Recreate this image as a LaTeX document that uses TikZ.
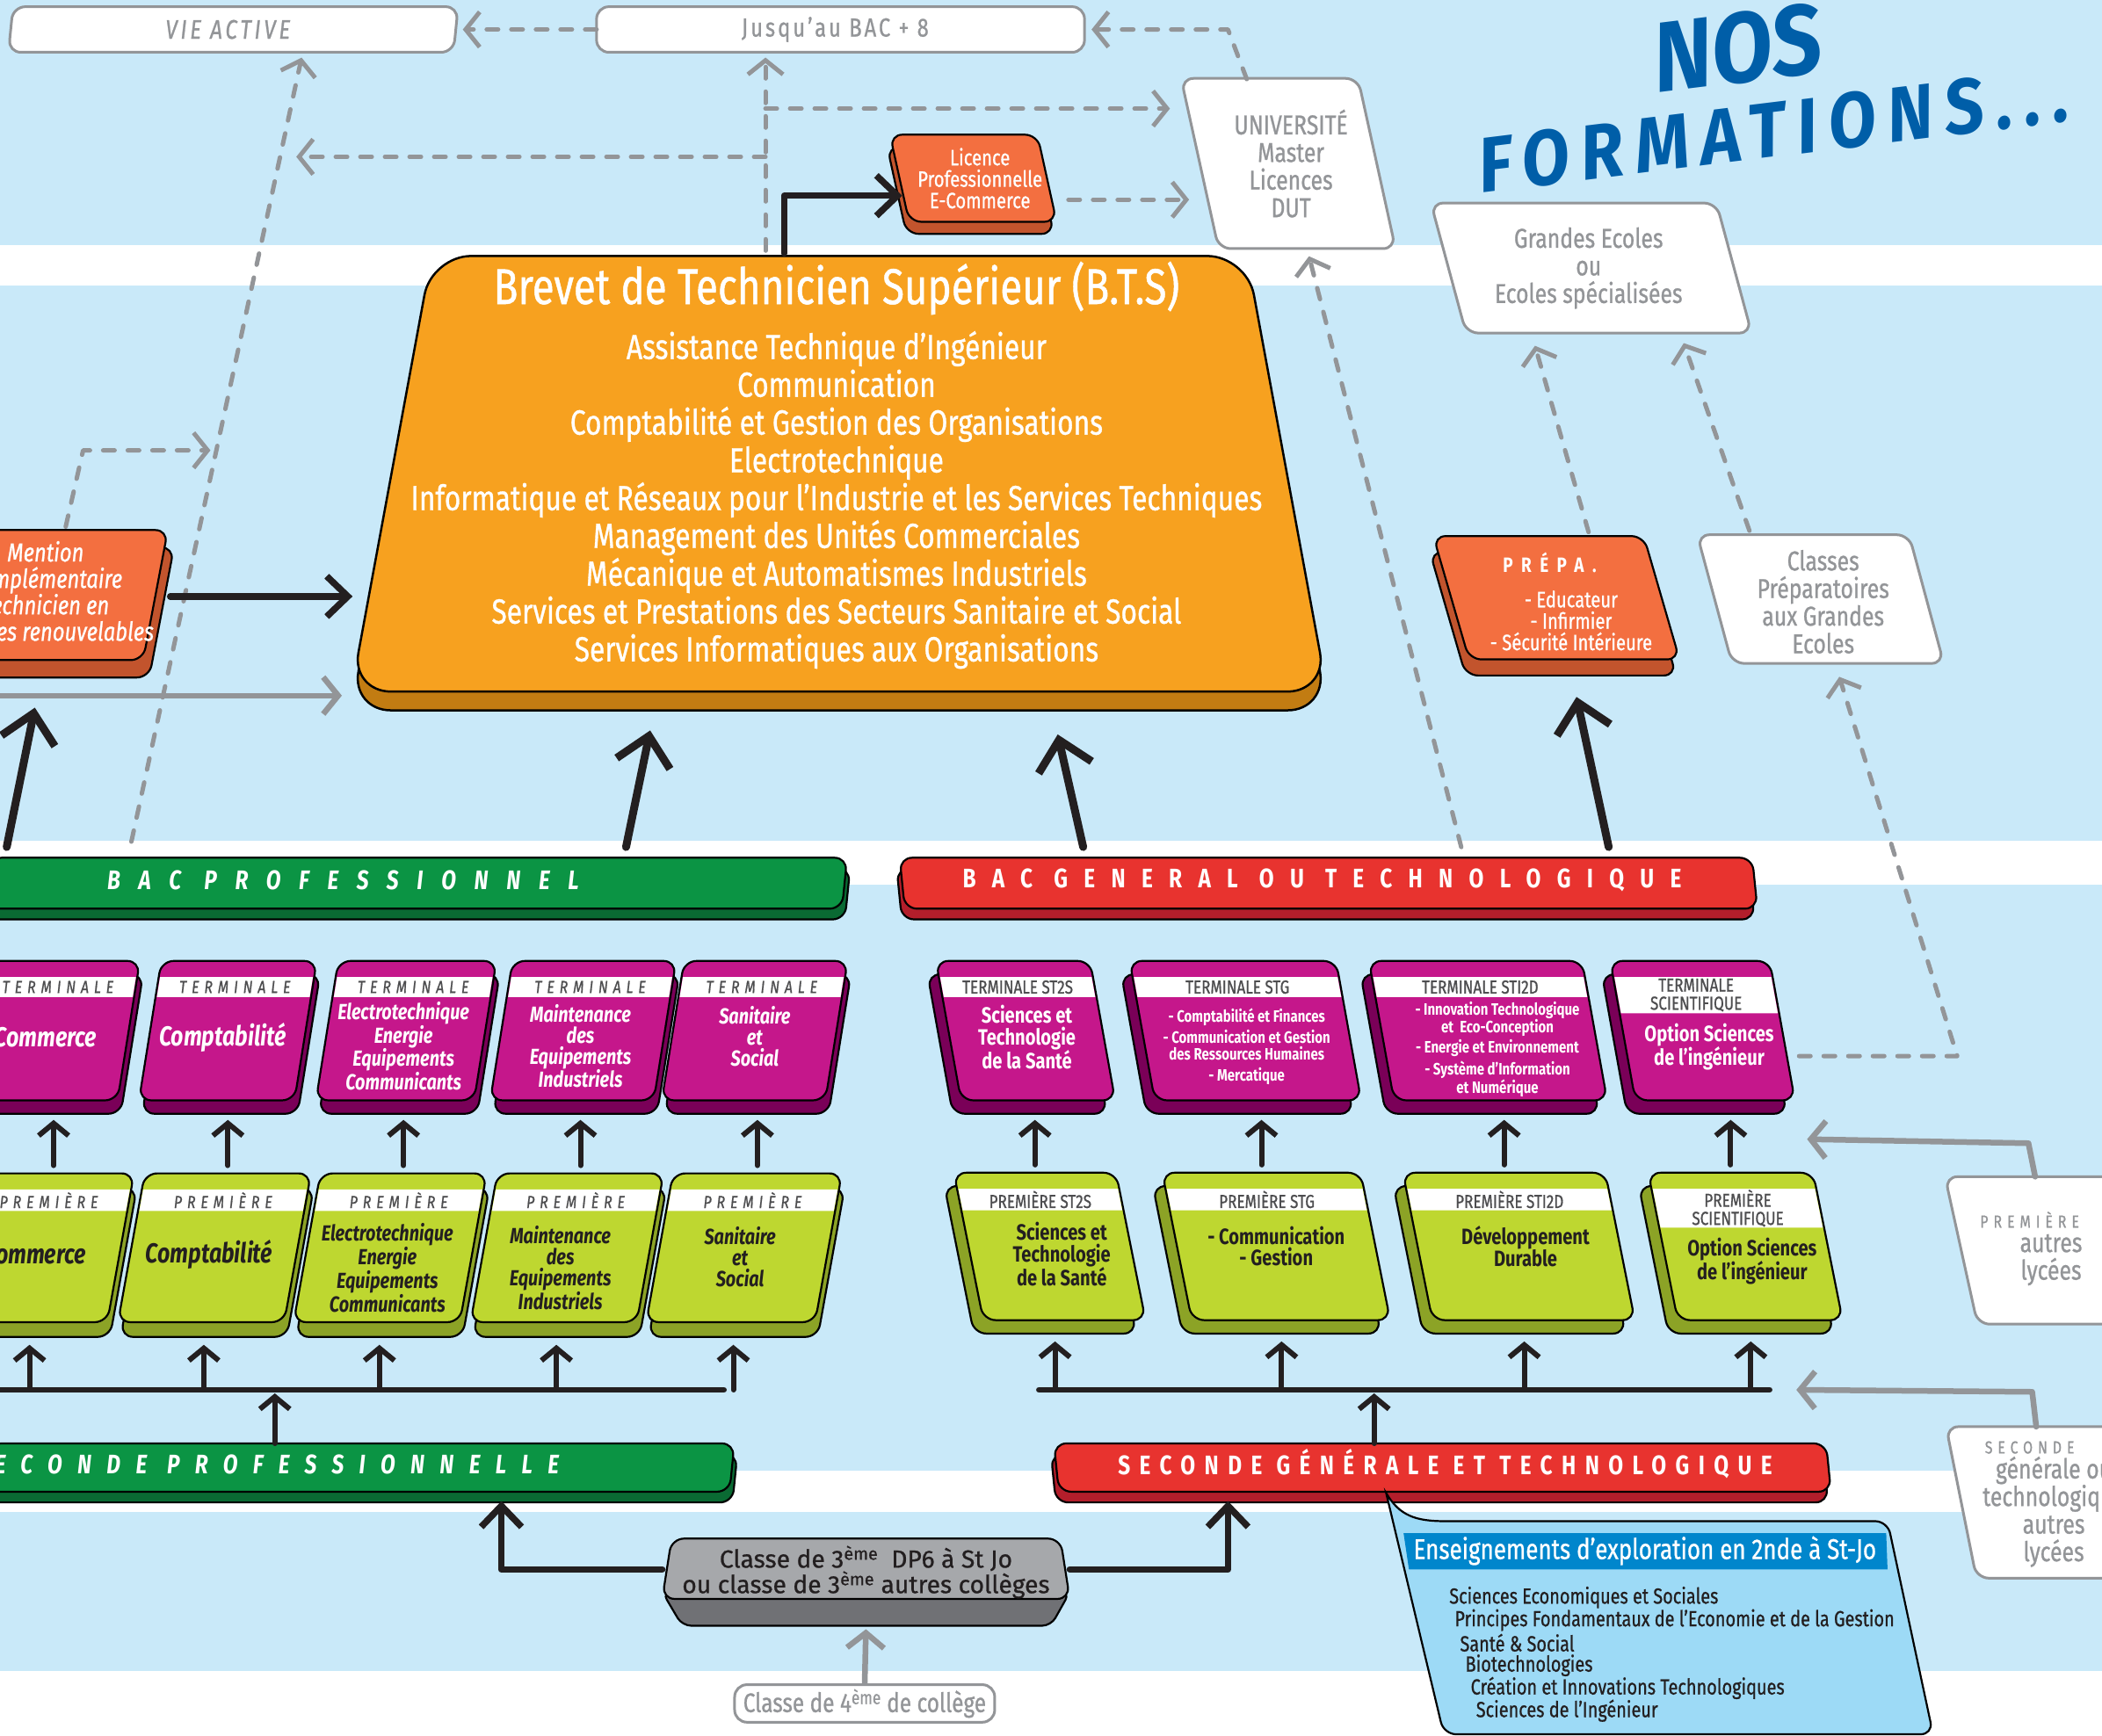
\documentclass[tikz,border=0pt]{standalone}
\usepackage{fontspec}
\setmainfont{Fira Sans}[FakeStretch=0.8, UprightFeatures={FakeBold=0.8}, ItalicFeatures={FakeBold=0.8}]
\newfontfamily\widefont{Fira Sans}[FakeBold=0.8]
\newfontfamily\handfont{Fira Sans}[FakeStretch=0.9]
\usetikzlibrary{arrows.meta}

\definecolor{skyback}{HTML}{C9E9F9}
\definecolor{linegray}{HTML}{939598}
\definecolor{labelgray}{HTML}{4D4D4F}
\definecolor{darktext}{HTML}{231F20}
\definecolor{btsface}{HTML}{F7A11F}
\definecolor{btsside}{HTML}{C27C12}
\definecolor{brickface}{HTML}{F36F40}
\definecolor{brickside}{HTML}{C2542D}
\definecolor{magface}{HTML}{C5178B}
\definecolor{magside}{HTML}{7A0058}
\definecolor{limeface}{HTML}{BED730}
\definecolor{limeside}{HTML}{8CA326}
\definecolor{proface}{HTML}{0B9444}
\definecolor{proside}{HTML}{0A6A33}
\definecolor{genface}{HTML}{E8332F}
\definecolor{genside}{HTML}{B31E2B}
\definecolor{stoneface}{HTML}{A6A8AB}
\definecolor{stoneside}{HTML}{707175}
\definecolor{titleblue}{HTML}{005EA8}
\definecolor{explface}{HTML}{9DDAF6}
\definecolor{explhead}{HTML}{0086CC}

% font size given in pixels of the reference
\newcommand\sz[2]{\fontsize{\fpeval{#1*1.5255}}{\fpeval{#2*1.5255}}\selectfont}

% raised block: name, centre, width, height, slant, depth x, depth y, colour, band height
\newcommand\slab[9]{%
  \begin{scope}[shift={#2}, xslant=#5]
    \path[fill=#8side, draw=black, line width=2.2pt, rounded corners=14pt]
      (-#3/2+#6,-#4/2+#7) -- (#3/2+#6,-#4/2+#7) -- (#3/2+#6,#4/2+#7) -- (-#3/2+#6,#4/2+#7) -- cycle;
    \path[fill=#8face, draw=black, line width=2.2pt, rounded corners=14pt]
      (-#3/2,-#4/2) -- (#3/2,-#4/2) -- (#3/2,#4/2) -- (-#3/2,#4/2) -- cycle;
    \ifdim #9pt>0pt
      \fill[white] (-#3/2+1,-#4/2+12) -- (#3/2-1,-#4/2+12) -- (#3/2-1,-#4/2+12+#9) -- (-#3/2+1,-#4/2+12+#9) -- cycle;
    \fi
    \coordinate (#1) at (0,0);
    \coordinate (#1-n) at (0,-#4/2);
    \coordinate (#1-s) at (#6,#4/2+#7);
    \coordinate (#1-w) at (-#3/2,0);
    \coordinate (#1-e) at (#3/2,0);
    \coordinate (#1-band) at (0,-#4/2+12+#9/2);
  \end{scope}}

% flat white card: name, centre, width, height, slant
\newcommand\card[5]{%
  \begin{scope}[shift={#2}, xslant=#5]
    \path[fill=white, draw=linegray, line width=3pt, rounded corners=14pt]
      (-#3/2,-#4/2) -- (#3/2,-#4/2) -- (#3/2,#4/2) -- (-#3/2,#4/2) -- cycle;
    \coordinate (#1) at (0,0);
    \coordinate (#1-n) at (0,-#4/2);
    \coordinate (#1-s) at (0,#4/2);
    \coordinate (#1-w) at (-#3/2,0);
    \coordinate (#1-e) at (#3/2,0);
  \end{scope}}

\tikzset{
  dashline/.style={draw=linegray, line width=5pt, line cap=round, line join=round, dash pattern=on 13pt off 15pt},
  dashlink/.style={dashline, -{Straight Barb[length=16pt, width=40pt]}},
  greylink/.style={draw=linegray, line width=6.5pt, line cap=round, line join=round, -{Straight Barb[length=17pt, width=42pt]}},
  boldline/.style={draw=darktext, line width=6.5pt, line cap=round, line join=round},
  boldlink/.style={boldline, line width=7.5pt, -{Straight Barb[length=24pt, width=46pt]}},
  hugelink/.style={boldline, line width=9pt, -{Straight Barb[length=32pt, width=62pt]}},
  uplink/.style={boldline, line width=6pt, -{Straight Barb[length=14pt, width=34pt]}},
  bandlabel/.style={inner sep=0pt, text=labelgray, font=\sz{13}{13}\itshape\addfontfeatures{LetterSpace=30}},
  bandtag/.style={inner sep=0pt, text=labelgray, align=center, font=\sz{14}{13.5}},
  bigword/.style={inner sep=0pt, font=\sz{20.5}{20}\bfseries\itshape},
  probody/.style={inner sep=0pt, text=white, align=center, font=\sz{16.3}{15.7}\bfseries\itshape},
  prebody/.style={probody, text=darktext},
  genbody/.style={inner sep=0pt, text=white, align=center, font=\sz{16.5}{16}\bfseries},
  genbodydark/.style={genbody, text=darktext},
  genlist/.style={inner sep=0pt, text=white, align=center, font=\sz{12.3}{12.8}\bfseries},
  cardtext/.style={inner sep=0pt, text=linegray, align=center, font=\sz{20.3}{20.6}},
  bartext/.style={inner sep=0pt, text=white, font=\sz{20}{20}\bfseries\itshape\addfontfeatures{LetterSpace=68}},
  bartextup/.style={inner sep=0pt, text=white, font=\sz{20}{20}\bfseries\addfontfeatures{LetterSpace=60}},
  whitetext/.style={inner sep=0pt, text=white, align=center, font=\sz{16.6}{16}},
  btstitle/.style={inner sep=0pt, text=white, font=\sz{37.5}{40}},
  btslist/.style={inner sep=0pt, text=white, align=center, font=\sz{26}{28.2}},
  handtitle/.style={inner sep=0pt, text=titleblue, font=\handfont\bfseries\itshape},
  explitem/.style={inner sep=0pt, anchor=west, text=darktext, font=\sz{16.3}{16}}
}

\begin{document}
\begin{tikzpicture}[x=1.5255pt, y=-1.5255pt]
\useasboundingbox (0,0) rectangle (1568,1295);

% background stripes
\fill[skyback] (0,0) rectangle (1568,1295);
\fill[white] (0,183) rectangle (1568,213);
\fill[white] (0,627) rectangle (1568,660);
\fill[white] (0,1097) rectangle (1568,1128);
\fill[white] (0,1247) rectangle (1568,1295);

% white cards
\card{vie}{(174,22)}{332}{34}{0.1}
\card{jus}{(627,22)}{364}{34}{0}
\card{uni}{(961,122)}{132}{127}{-0.22}
\card{ecoles}{(1187,200)}{213}{97}{-0.27}
\card{cpge}{(1358,447)}{158}{96}{-0.27}
\card{autre1}{(1563,933)}{200}{110}{-0.22}
\card{autre2}{(1563,1121)}{200}{113}{-0.2}
\card{cl4}{(645,1271)}{194}{28}{0}

\node[cardtext, font=\sz{20}{19}\itshape\addfontfeatures{LetterSpace=12}] (vie-txt) at (170,22) {VIE ACTIVE};
\node[cardtext, font=\sz{19.5}{19}\addfontfeatures{LetterSpace=10}] (jus-txt) at (623,22) {Jusqu'au BAC + 8};
\node[cardtext] (uni-txt) at (963,122) {UNIVERSITÉ\\Master\\Licences\\DUT};
\node[cardtext] (ecoles-txt) at (1185,200) {Grandes Ecoles\\ou\\Ecoles spécialisées};
\node[cardtext] (cpge-txt) at (1360,449) {Classes\\Préparatoires\\aux Grandes\\Ecoles};
\node[bandlabel, text=linegray, font=\sz{13}{13}\addfontfeatures{LetterSpace=30}] (autre1-tag) at (1514,910) {PREMIÈRE};
\node[cardtext] (autre1-txt) at (1530,940) {autres\\lycées};
\node[bandlabel, text=linegray, font=\sz{13}{13}\addfontfeatures{LetterSpace=30}] (autre2-tag) at (1514,1080) {SECONDE};
\node[cardtext] (autre2-txt) at (1532,1128) {générale ou\\technologique\\autres\\lycées};
\node[cardtext, font=\sz{20}{18}] (cl4-txt) at (645,1271) {Classe de 4\textsuperscript{ème} de collège};

% title
\node[handtitle, font=\handfont\bfseries\itshape\sz{74}{74}, rotate=7] (nos) at (1296,36) {NOS};
\node[handtitle, font=\handfont\bfseries\itshape\sz{58}{58}\addfontfeatures{LetterSpace=15}, rotate=7] (formations) at (1323,97) {FORMATIONS...};

% dashed routes
\coordinate (vie-foot) at (98,628);
\coordinate (vie-in) at (225,43);
\coordinate (fork-foot) at (571,187);
\coordinate (fork-hi) at (571,81);
\coordinate (fork-lo) at (571,117);
\coordinate (vie-join) at (221,117);
\coordinate (mention-up) at (49,393);
\coordinate (lic-out) at (797,149);
\coordinate (uni-in) at (887,149);
\coordinate (uni-up) at (930,59);
\coordinate (bacgen-uni) at (1090,632);
\coordinate (prepa-up) at (1185,397);
\coordinate (ecoles-in1) at (1145,258);
\coordinate (cpge-up) at (1305,396);
\coordinate (ecoles-in2) at (1256,256);
\coordinate (tsci-out) at (1342,788);
\coordinate (cpge-in) at (1372,505);
\draw[dashlink] (vie-foot) -- (vie-in);
\draw[dashlink, shorten >=8pt] (jus-w) -- (vie-e);
\draw[dashlink, shorten >=8pt] (uni-up) -- ++(-14,-37) -- (jus-e);
\draw[dashlink, shorten >=6pt] (fork-foot) -- (fork-foot |- jus-s);
\draw[dashlink, shorten >=34pt] (fork-hi) -- (uni-w |- fork-hi);
\draw[dashlink] (fork-lo) -- (vie-join);
\draw[dashlink] (mention-up) -- ++(13,-57) -- ++(95,0);
\draw[dashlink] (lic-out) -- (uni-in);
\draw[dashlink, shorten >=9pt] (bacgen-uni) -- (uni-s);
\draw[dashlink] (prepa-up) -- (ecoles-in1);
\draw[dashlink] (cpge-up) -- (ecoles-in2);
\draw[dashlink] (tsci-out) -- ++(118,0) -- (cpge-in);

% BTS block
\path[fill=btsside, draw=black, line width=2.5pt, rounded corners=45pt]
  (262,530) -- (322,205) -- (930,205) -- (990,530) -- cycle;
\path[fill=btsface, draw=black, line width=2.5pt, rounded corners=45pt]
  (262,516) -- (322,191) -- (930,191) -- (990,516) -- cycle;
\node[btstitle] (bts-title) at (624,215) {Brevet de Technicien Supérieur (B.T.S)};
\node[btslist] (bts-list) at (624,373) {Assistance Technique d'Ingénieur\\Communication\\Comptabilité et Gestion des Organisations\\Electrotechnique\\Informatique et Réseaux pour l'Industrie et les Services Techniques\\Management des Unités Commerciales\\Mécanique et Automatismes Industriels\\Services et Prestations des Secteurs Sanitaire et Social\\Services Informatiques aux Organisations};
\coordinate (bts-top) at (585,189);
\coordinate (bts-west) at (263,445);
\coordinate (bts-sw) at (255,519);
\coordinate (bts-s1) at (485,545);
\coordinate (bts-s2) at (789,548);

% orange blocks
\slab{mention}{(14,444)}{204}{97}{0.19}{7}{13}{brick}{0}
\node[whitetext, font=\sz{19.5}{19.7}\itshape] (mention-txt) at (34,443) {Mention\\Complémentaire\\Technicien en\\Energies renouvelables};
\slab{licence}{(726,133)}{110}{65}{-0.22}{-4}{9}{brick}{0}
\node[whitetext] (licence-txt) at (731,133) {Licence\\Professionnelle\\E-Commerce};
\slab{prepa}{(1161,446)}{157}{92}{-0.29}{-6}{12}{brick}{0}
\node[whitetext, font=\sz{15.5}{15}\bfseries\addfontfeatures{LetterSpace=40}] (prepa-tag) at (1156,420) {PRÉPA.};
\node[whitetext] (prepa-txt) at (1172,463) {- Educateur\\- Infirmier\\- Sécurité Intérieure};

% BAC bars
\slab{bacpro}{(310,659)}{640}{38}{0.1}{3}{8}{pro}{0}
\slab{bacgen}{(991,659)}{636}{38}{-0.1}{-3}{8}{gen}{0}
\node[bartext, anchor=west] (bacpro-txt) at (80,657) {BAC PROFESSIONNEL};
\node[bartextup, anchor=west] (bacgen-txt) at (718,657) {BAC GENERAL OU TECHNOLOGIQUE};

% terminale blocks
\foreach \nm/\cx/\w in {tcom/38/116, tcpt/170/116, telec/303/118, tmaint/435/122, tsan/563/122}
  \slab{\nm}{(\cx,769)}{\w}{104}{0.16}{4}{10}{mag}{15};
\foreach \nm/\cx/\w in {tst2s/765/115, tstg/929/154, tsti/1110/159}
  \slab{\nm}{(\cx,769)}{\w}{104}{-0.18}{-8}{10}{mag}{15};
\slab{tsci}{(1270,769)}{119}{104}{-0.18}{-8}{10}{mag}{27}
\foreach \nm in {tcom, tcpt, telec, tmaint, tsan}
  \node[bandlabel] (\nm-tag) at (\nm-band) {TERMINALE};
\node[bandtag] (tst2s-tag) at (tst2s-band) {TERMINALE ST2S};
\node[bandtag] (tstg-tag) at (tstg-band) {TERMINALE STG};
\node[bandtag] (tsti-tag) at (tsti-band) {TERMINALE STI2D};
\node[bandtag] (tsci-tag) at (tsci-band) {TERMINALE\\SCIENTIFIQUE};
\node[bigword, text=white] (tcom-txt) at (34,774) {Commerce};
\node[bigword, text=white] (tcpt-txt) at (166,774) {Comptabilité};
\node[probody] (telec-txt) at (301,780.5) {Electrotechnique\\Energie\\Equipements\\Communicants};
\node[probody] (tmaint-txt) at (433,780.5) {Maintenance\\des\\Equipements\\Industriels};
\node[probody] (tsan-txt) at (563,773) {Sanitaire\\et\\Social};
\node[genbody] (tst2s-txt) at (766,774) {Sciences et\\Technologie\\de la Santé};
\node[genlist] (tstg-txt) at (930,781) {- Comptabilité et Finances\\[4pt]- Communication et Gestion\\des Ressources Humaines\\[4pt]- Mercatique};
\node[genlist] (tsti-txt) at (1117,783) {- Innovation Technologique\\et\ \ Eco-Conception\\[4pt]- Energie et Environnement\\[4pt]- Système d'Information\\et Numérique};
\node[genbody] (tsci-txt) at (1275,781) {Option Sciences\\de l'ingénieur};

% premiere blocks
\foreach \nm/\cx/\w in {pcom/30/120, pcpt/160/124, pelec/291/124, pmaint/423/124, psan/555/126}
  \slab{\nm}{(\cx,931)}{\w}{111}{0.18}{4}{11}{lime}{16};
\foreach \nm/\cx/\w in {pst2s/783/121, pstg/952/148, psti/1133/151}
  \slab{\nm}{(\cx,930)}{\w}{110}{-0.2}{-9}{10}{lime}{16};
\slab{psci}{(1302,930)}{123}{110}{-0.2}{-9}{10}{lime}{29}
\foreach \nm in {pcom, pcpt, pelec, pmaint, psan}
  \node[bandlabel] (\nm-tag) at (\nm-band) {PREMIÈRE};
\node[bandtag] (pst2s-tag) at (pst2s-band) {PREMIÈRE ST2S};
\node[bandtag] (pstg-tag) at (pstg-band) {PREMIÈRE STG};
\node[bandtag] (psti-tag) at (psti-band) {PREMIÈRE STI2D};
\node[bandtag] (psci-tag) at (psci-band) {PREMIÈRE\\SCIENTIFIQUE};
\node[bigword, text=darktext] (pcom-txt) at (26,936) {Commerce};
\node[bigword, text=darktext] (pcpt-txt) at (156,936) {Comptabilité};
\node[prebody] (pelec-txt) at (289,946) {Electrotechnique\\Energie\\Equipements\\Communicants};
\node[prebody] (pmaint-txt) at (418,946) {Maintenance\\des\\Equipements\\Industriels};
\node[prebody] (psan-txt) at (552,938) {Sanitaire\\et\\Social};
\node[genbodydark] (pst2s-txt) at (792,936) {Sciences et\\Technologie\\de la Santé};
\node[genbodydark] (pstg-txt) at (952,930) {- Communication\\- Gestion};
\node[genbodydark] (psti-txt) at (1138,930) {Développement\\Durable};
\node[genbodydark] (psci-txt) at (1307,941) {Option Sciences\\de l'ingénieur};

% seconde bars
\slab{secpro}{(268,1095)}{556}{36}{0.1}{3}{8}{pro}{0}
\slab{secgen}{(1076,1095)}{576}{36}{-0.1}{-3}{8}{gen}{0}
\node[bartext, anchor=east, font=\sz{20}{20}\bfseries\itshape\addfontfeatures{LetterSpace=57}] (secpro-txt) at (417,1093) {SECONDE PROFESSIONNELLE};
\node[bartextup, font=\sz{20}{20}\bfseries\addfontfeatures{LetterSpace=34}] (secgen-txt) at (1078,1092) {SECONDE GÉNÉRALE ET TECHNOLOGIQUE};

% classe de 3eme
\path[fill=stoneside, draw=black, line width=2.2pt, rounded corners=10pt]
  (494,1188) -- (798,1188) -- (784,1213) -- (509,1213) -- cycle;
\path[fill=stoneface, draw=black, line width=2.2pt, rounded corners=14pt]
  (501,1148) -- (791,1148) -- (798,1193) -- (494,1193) -- cycle;
\node[inner sep=0pt, align=center, text=darktext, font=\widefont\sz{18.5}{19}] (cl3) at (646,1173) {Classe de 3\textsuperscript{ème}\ \ DP6 à St Jo\\ou classe de 3\textsuperscript{ème} autres collèges};
\coordinate (cl3-w) at (494,1171);
\coordinate (cl3-e) at (798,1171);
\coordinate (cl3-s) at (646,1213);

% enseignements d'exploration
\path[fill=explface, draw=black, line width=2.2pt]
  (1034,1114) .. controls (1044,1131) and (1056,1135) .. (1078,1135)
  [rounded corners=14pt] -- (1408,1135) -- (1442,1294) -- (1077,1294) [sharp corners] -- cycle;
\fill[explhead] (1047,1144) -- (1407,1144) -- (1408,1171) -- (1051,1171) -- cycle;
\node[inner sep=0pt, text=white, font=\sz{21.3}{20}] (expl-title) at (1227,1157) {Enseignements d'exploration en 2nde à St-Jo};
\foreach \txt [count=\i] in {Sciences Economiques et Sociales, Principes Fondamentaux de l'Economie et de la Gestion, Santé \& Social, Biotechnologies, Création et Innovations Technologiques, Sciences de l'Ingénieur}
  \node[explitem] (expl-\i) at ({1077+4*\i},{1175+16.9*\i}) {\txt};

% solid arrows
\coordinate (left-in) at (0,519);
\coordinate (bacpro-a) at (5,632);
\coordinate (mention-in) at (26,528);
\coordinate (bacpro-b) at (467,632);
\coordinate (bacgen-a) at (808,632);
\coordinate (bacgen-b) at (1200,632);
\coordinate (prepa-in) at (1176,520);
\coordinate (licence-in) at (673,146);
\coordinate (mention-out) at (127,445);
\draw[greylink] (left-in) -- (bts-sw);
\draw[boldlink] (bts-top) |- (licence-in);
\draw[boldlink] (mention-out) -- (bts-west);
\draw[hugelink] (bacpro-a) -- (mention-in);
\draw[hugelink] (bacpro-b) -- (bts-s1);
\draw[hugelink] (bacgen-a) -- (bts-s2);
\draw[hugelink] (bacgen-b) -- (prepa-in);

% premiere to terminale
\foreach \p/\t in {pcom/tcom, pcpt/tcpt, pelec/telec, pmaint/tmaint, psan/tsan, pst2s/tst2s, pstg/tstg, psti/tsti, psci/tsci}
  \draw[uplink, shorten <=9pt, shorten >=7pt] (\p-n) -- (\p-n |- \t-s);

% seconde to premiere
\coordinate (prodist-w) at (-10,1037);
\coordinate (prodist-e) at (540,1037);
\coordinate (gendist-w) at (775,1037);
\coordinate (gendist-e) at (1320,1037);
\draw[boldline] (prodist-w) -- (prodist-e);
\draw[boldline] (gendist-w) -- (gendist-e);
\foreach \p in {pcom, pcpt, pelec, pmaint, psan}
  \draw[uplink, shorten >=9pt] (\p-s |- prodist-w) -- (\p-s);
\foreach \p in {pst2s, pstg, psti, psci}
  \draw[uplink, shorten >=9pt] (\p-s |- gendist-w) -- (\p-s);
\coordinate (secpro-up) at (205,1077);
\coordinate (secgen-up) at (1025,1077);
\draw[uplink, shorten >=4pt] (secpro-up) -- (secpro-up |- prodist-w);
\draw[uplink, shorten >=4pt] (secgen-up) -- (secgen-up |- gendist-w);

% classe de 3eme to seconde
\draw[boldlink] (cl3-w) -- ++(-120,0) -- ++(0,-51);
\draw[boldlink] (cl3-e) -- ++(118,0) -- ++(0,-51);
\draw[greylink, shorten <=2pt, shorten >=4pt] (cl4-n) -- (cl3-s);

% other lycees
\coordinate (tsci-in) at (1348,850);
\coordinate (psci-in) at (1340,1037);
\draw[greylink] ([xshift=-50pt]autre1-n) -- ++(-5,-25) -- (tsci-in);
\draw[greylink] ([xshift=-50pt]autre2-n) -- ++(-3,-26) -- (psci-in);

\end{tikzpicture}
\end{document}
